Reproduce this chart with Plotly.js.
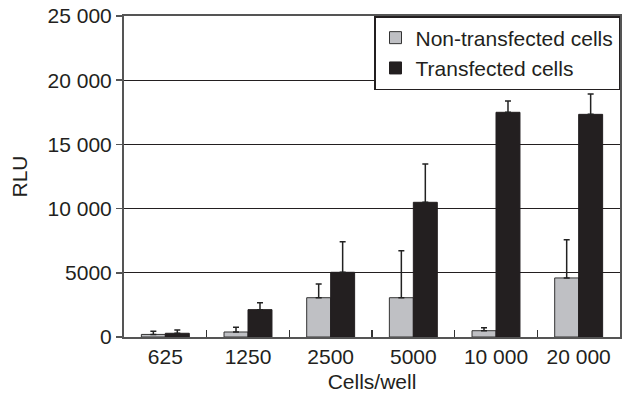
<!DOCTYPE html>
<html>
<head>
<script src="https://cdn.plot.ly/plotly-3.0.1.min.js"></script>
<style>body{margin:0;padding:0;background:#fff;}#chart{width:624px;height:393px;}</style>
</head>
<body>
<div id="chart"></div>
<script>
var categories = ["625", "1250", "2500", "5000", "10 000", "20 000"];
var nonTransfected = [200, 390, 3060, 3060, 490, 4600];
var nonTransfectedErr = [240, 370, 1070, 3660, 235, 2980];
var transfected = [290, 2130, 5040, 10490, 17500, 17340];
var transfectedErr = [255, 540, 2380, 2980, 880, 1580];
var yTickVals = [0, 5000, 10000, 15000, 20000, 25000];
var yTickText = ["0", "5000", "10 000", "15 000", "20 000", "25 000"];

var font = "Liberation Sans, Arial, sans-serif";
var traces = [
  {
    type: "bar", name: "Non-transfected cells", x: categories, y: nonTransfected,
    marker: {color: "#bfc0c4", line: {color: "#333", width: 1}},
    error_y: {type: "data", array: nonTransfectedErr, arrayminus: nonTransfectedErr.map(function(){return 0;}), symmetric: false, color: "#222", thickness: 1.5, width: 3}
  },
  {
    type: "bar", name: "Transfected cells", x: categories, y: transfected,
    marker: {color: "#231f20", line: {color: "#231f20", width: 1}},
    error_y: {type: "data", array: transfectedErr, arrayminus: transfectedErr.map(function(){return 0;}), symmetric: false, color: "#222", thickness: 1.5, width: 3}
  }
];
var layout = {
  width: 624, height: 393,
  margin: {l: 124, r: 4, t: 16, b: 56},
  paper_bgcolor: "#fff", plot_bgcolor: "#fff",
  font: {family: font, size: 21, color: "#231f20"},
  barmode: "group", bargap: 0.42, bargroupgap: 0,
  showlegend: true,
  legend: {x: 1, y: 1, xanchor: "right", yanchor: "top", bordercolor: "#231f20", borderwidth: 1.5,
           bgcolor: "#fff", font: {family: font, size: 21, color: "#231f20"}, tracegroupgap: 4,
           itemwidth: 30},
  xaxis: {
    type: "category", showline: true, linecolor: "#555", linewidth: 2, mirror: true,
    ticks: "inside", tickson: "boundaries", ticklen: 7, tickcolor: "#333", tickwidth: 1.5,
    showgrid: false, tickfont: {size: 21},
    title: {text: "Cells/well", font: {size: 21}, standoff: 8}
  },
  yaxis: {
    range: [0, 25000], tickvals: yTickVals, ticktext: yTickText,
    showline: true, linecolor: "#555", linewidth: 2, mirror: true,
    ticks: "outside", ticklen: 6, tickcolor: "#555", tickwidth: 1.5,
    showgrid: true, gridcolor: "#231f20", gridwidth: 1.2, zeroline: false,
    tickfont: {size: 21},
    title: {text: "RLU", font: {size: 21}, standoff: 14}
  }
};
Plotly.newPlot("chart", traces, layout, {displayModeBar: false, staticPlot: true});
</script>
</body>
</html>
